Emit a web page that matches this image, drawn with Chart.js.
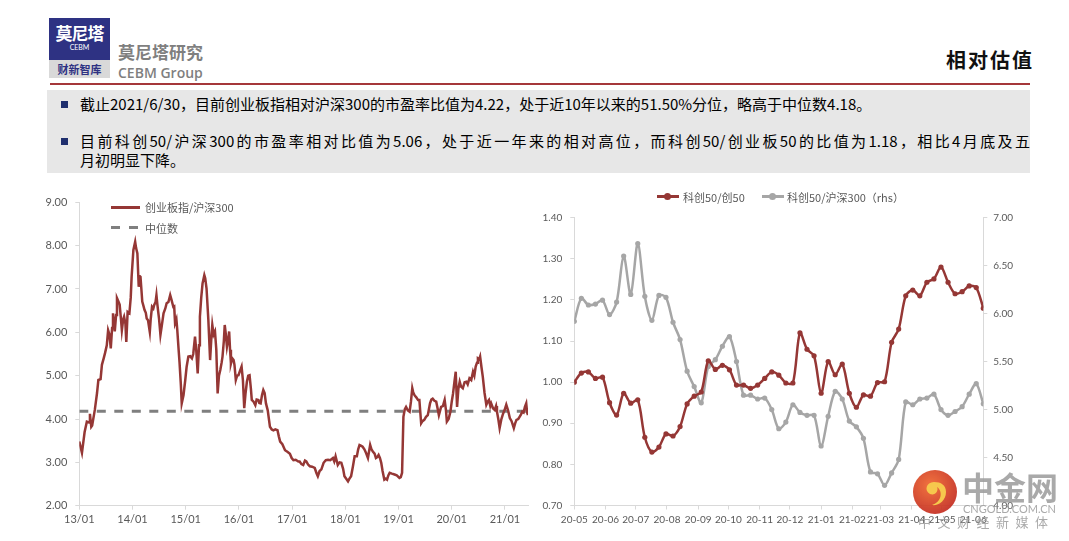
<!DOCTYPE html>
<html lang="zh-CN">
<head>
<meta charset="utf-8">
<title>相对估值</title>
<script src="https://cdn.jsdelivr.net/npm/chart.js@4.4.1/dist/chart.umd.min.js"></script>
<style>
html, body { margin: 0; padding: 0; background: #fff; }
body { width: 1069px; height: 541px; position: relative; overflow: hidden; font-family: 'Noto Sans CJK SC', sans-serif; }
.abs { position: absolute; }
.logo-top { left: 49px; top: 18px; width: 61px; height: 42px; background: #2e3283; color: #fff; text-align: center; }
.logo-top .cn { font-size: 17px; font-weight: 700; line-height: 19px; padding-top: 5px; letter-spacing: -1px; }
.logo-top .en { font-family: Lato, sans-serif; font-size: 7px; line-height: 11px; }
.logo-bot { left: 49px; top: 60px; width: 61px; height: 18px; background: #d9d9d9; color: #2e3283; text-align: center; font-size: 11px; font-weight: 700; line-height: 18px; }
.brand-cn { left: 118px; top: 42px; font-size: 17px; font-weight: 700; color: #7f7f7f; line-height: 20px; }
.brand-en { left: 118px; top: 64px; font-family: 'Open Sans', sans-serif; font-size: 14px; font-weight: 600; color: #7f7f7f; line-height: 18px; }
.title { left: 946px; top: 48px; font-size: 20px; font-weight: 700; color: #111; letter-spacing: 2px; line-height: 24px; }
.rule { left: 50px; top: 83px; width: 980px; height: 2px; background: #a5373a; }
.box { left: 47px; top: 90px; width: 983px; height: 83px; background: #e7e7e7; }
.bullet { width: 7px; height: 7px; background: #1f2f6e; }
.para { left: 80px; font-size: 15px; color: #000; line-height: 19px; white-space: nowrap; }
.just { width: 950px; white-space: normal; text-align: justify; text-align-last: justify; text-justify: inter-character; }
.leg { font-size: 11px; color: #595959; line-height: 14px; white-space: nowrap; }
.wm { color: #9b9b9b; white-space: nowrap; }
</style>
</head>
<body>
<div class="abs logo-top"><div class="cn">莫尼塔</div><div class="en">CEBM</div></div>
<div class="abs logo-bot">财新智库</div>
<div class="abs brand-cn">莫尼塔研究</div>
<div class="abs brand-en">CEBM Group</div>
<div class="abs title">相对估值</div>
<div class="abs rule"></div>

<div class="abs box"></div>
<div class="abs bullet" style="left:61px;top:101px"></div>
<div class="abs para" style="top:94px">截止2021/6/30，目前创业板指相对沪深300的市盈率比值为4.22，处于近10年以来的51.50%分位，略高于中位数4.18。</div>
<div class="abs bullet" style="left:61px;top:138px"></div>
<div class="abs para just" style="top:131px">目前科创50/沪深300的市盈率相对比值为5.06，处于近一年来的相对高位，而科创50/创业板50的比值为1.18，相比4月底及五</div>
<div class="abs para" style="top:150px">月初明显下降。</div>

<canvas id="cybChart" class="abs" width="510" height="340" style="left:30px;top:195px"></canvas>
<div class="abs" style="left:111px;top:206px;width:29px;height:3px;background:#953735"></div>
<div class="abs leg" style="left:145px;top:200px">创业板指/沪深300</div>
<div class="abs" style="left:111px;top:226px;width:9px;height:3px;background:#7f7f7f"></div>
<div class="abs" style="left:129px;top:226px;width:9px;height:3px;background:#7f7f7f"></div>
<div class="abs leg" style="left:145px;top:221px">中位数</div>

<canvas id="kcChart" class="abs" width="500" height="350" style="left:540px;top:185px"></canvas>
<div class="abs" style="left:657px;top:195px;width:22px;height:3px;background:#953735"></div>
<div class="abs" style="left:664px;top:193px;width:7px;height:7px;border-radius:50%;background:#953735"></div>
<div class="abs leg" style="left:683px;top:190px">科创50/创50</div>
<div class="abs" style="left:762px;top:195px;width:22px;height:3px;background:#a6a6a6"></div>
<div class="abs" style="left:769px;top:193px;width:7px;height:7px;border-radius:50%;background:#a6a6a6"></div>
<div class="abs leg" style="left:787px;top:190px">科创50/沪深300（rhs）</div>

<svg class="abs" style="left:912px;top:469px;opacity:0.9" width="46" height="46" viewBox="0 0 46 46">
  <defs><radialGradient id="wmg" cx="40%" cy="35%" r="65%"><stop offset="0" stop-color="#f0642a"/><stop offset="1" stop-color="#c42a1c"/></radialGradient></defs>
  <circle cx="23" cy="23" r="22" fill="url(#wmg)"/>
  <path d="M22 13 C14 13 12 22 18 25 C23 27 27 22 25 18 C31 22 30 33 20 36 C26 37 34 32 34 23 C34 16 29 13 22 13 Z" fill="#f6c33a"/>
</svg>
<div class="abs wm" style="left:962px;top:468px;font-size:32px;font-weight:700;line-height:36px;opacity:0.85">中金网</div>
<div class="abs wm" style="left:963px;top:503px;font-family:Lato,sans-serif;font-size:11px;line-height:12px;opacity:0.85">CNGOLD.COM.CN</div>
<div class="abs wm" style="left:918px;top:514px;font-size:13px;line-height:16px;letter-spacing:6.5px;opacity:0.85">中文财经新媒体</div>

<script>
// 创业板指/沪深300 PE ratio: months since 2013/01 and value
const cybT = [0, 0.6, 1.2, 1.7, 2.2, 2.4, 2.7, 2.9, 3.5, 4.0, 4.3, 4.8, 5.1, 5.5, 5.8, 6.2, 6.5, 6.8, 7.1, 7.4,
  7.6, 8.0, 8.3, 8.5, 8.8, 9.1, 9.4, 9.6, 9.9, 10.1, 10.4, 10.6, 10.9, 11.3, 11.6, 11.8, 12.2, 12.6, 12.8, 13.1,
  13.4, 13.6, 13.8, 14.0, 14.2, 14.5, 14.7, 15.0, 15.2, 15.5, 15.9, 16.1, 16.4, 16.7, 16.9, 17.2, 17.4, 17.6, 17.8, 18.0,
  18.3, 18.6, 19.0, 19.4, 19.7, 20.1, 20.5, 20.8, 21.2, 21.4, 21.6, 21.9, 22.1, 22.4, 22.6, 22.9, 23.1, 23.5, 23.9, 24.2,
  24.6, 25.0, 25.4, 25.7, 26.1, 26.4, 26.7, 27.0, 27.2, 27.5, 27.8, 28.2, 28.4, 28.7, 29.1, 29.5, 29.8, 30.0, 30.3, 30.6,
  30.9, 31.2, 31.5, 31.8, 32.1, 32.3, 32.6, 32.8, 33.0, 33.3, 33.6, 33.8, 34.0, 34.2, 34.5, 34.8, 35.0, 35.3, 35.6, 35.9,
  36.2, 36.6, 36.9, 37.2, 37.5, 37.8, 38.1, 38.4, 38.7, 38.9, 39.3, 39.7, 40.0, 40.4, 40.6, 40.9, 41.2, 41.5, 41.8, 42.1,
  42.5, 43.0, 43.4, 43.8, 44.2, 44.7, 45.0, 45.3, 45.8, 46.4, 47.0, 47.5, 47.9, 48.3, 48.8, 49.4, 49.7, 50.1, 50.5, 50.9,
  51.2, 51.6, 52.0, 52.5, 53.1, 53.5, 53.8, 54.2, 54.6, 55.1, 55.6, 56.1, 56.6, 57.2, 57.5, 57.8, 58.3, 58.7, 59.1, 59.5,
  59.8, 60.2, 60.6, 60.9, 61.3, 61.7, 62.1, 62.6, 62.9, 63.2, 63.6, 63.9, 64.3, 64.7, 65.1, 65.6, 65.9, 66.2, 66.6, 66.9,
  67.2, 67.5, 67.8, 68.1, 68.4, 68.8, 69.1, 69.4, 69.7, 70.0, 70.5, 71.1, 71.6, 72.2, 72.5, 72.8, 73.1, 73.4, 73.7, 74.1,
  74.5, 74.8, 75.1, 75.3, 75.6, 76.0, 76.4, 76.7, 77.1, 77.4, 77.8, 78.2, 78.6, 79.1, 79.4, 79.7, 80.1, 80.5, 80.8, 81.1,
  81.6, 82.0, 82.4, 82.7, 82.9, 83.3, 83.7, 84.0, 84.3, 84.6, 84.9, 85.2, 85.5, 85.8, 86.1, 86.5, 86.9, 87.3, 87.6, 88.0,
  88.4, 88.8, 89.1, 89.4, 89.7, 89.9, 90.2, 90.4, 90.7, 91.0, 91.4, 91.8, 92.1, 92.4, 92.7, 92.9, 93.3, 93.7, 94.0, 94.2,
  94.5, 94.8, 95.2, 95.6, 95.9, 96.3, 96.7, 97.1, 97.5, 98.0, 98.3, 98.6, 99.0, 99.3, 99.6, 99.9, 100.2, 100.5, 100.8, 101.0,
  101.2];
const cybVal = [3.48, 3.22, 3.70, 3.94, 3.92, 4.12, 3.82, 3.85, 4.21, 4.60, 4.90, 4.92, 5.25, 5.40, 5.52, 5.70, 6.05, 5.95, 5.63, 6.10,
  6.44, 6.02, 6.40, 6.79, 6.72, 6.64, 6.30, 6.05, 6.30, 6.36, 6.20, 5.78, 6.47, 6.44, 6.80, 7.28, 7.90, 8.09, 7.95, 7.82,
  7.05, 7.30, 7.28, 7.00, 6.71, 6.60, 6.52, 6.45, 6.32, 6.28, 6.01, 6.30, 6.59, 6.55, 6.63, 6.70, 6.86, 6.65, 6.47, 6.30,
  5.94, 6.15, 6.44, 6.55, 6.67, 6.70, 6.86, 6.75, 6.59, 6.60, 6.21, 6.30, 6.05, 5.60, 5.32, 4.80, 4.36, 4.55, 4.90, 5.20,
  5.44, 5.45, 5.40, 5.50, 5.90, 5.55, 5.05, 5.70, 6.36, 6.80, 7.13, 7.32, 7.25, 7.01, 6.30, 5.36, 5.90, 6.17, 5.95, 6.02,
  5.60, 4.59, 5.00, 5.13, 5.30, 5.44, 5.80, 6.17, 6.00, 5.67, 5.85, 6.02, 5.60, 5.28, 5.40, 5.36, 5.25, 4.90, 5.00, 5.01,
  5.10, 5.21, 4.90, 4.25, 4.60, 4.86, 5.00, 5.01, 4.70, 4.44, 4.40, 4.32, 4.45, 4.44, 4.37, 4.36, 4.55, 4.67, 4.60, 4.36,
  4.20, 3.82, 3.76, 3.74, 3.76, 3.74, 3.60, 3.48, 3.42, 3.28, 3.24, 3.20, 3.10, 3.05, 3.06, 3.02, 3.02, 2.96, 2.94, 3.04,
  3.02, 2.95, 2.91, 2.90, 2.87, 2.75, 2.68, 2.80, 2.84, 2.99, 3.05, 3.06, 3.05, 3.10, 3.02, 3.14, 2.94, 3.00, 2.99, 2.85,
  2.68, 2.62, 2.56, 2.62, 2.68, 2.90, 3.14, 3.14, 3.30, 3.40, 3.38, 3.36, 3.30, 3.21, 3.10, 3.40, 3.30, 3.25, 3.20, 3.10,
  3.12, 3.17, 3.10, 2.99, 2.80, 2.60, 2.62, 2.60, 2.70, 2.76, 2.74, 2.72, 2.70, 2.64, 2.66, 2.76, 4.05, 4.22, 4.28, 4.20,
  4.17, 4.40, 4.71, 4.62, 4.55, 4.50, 4.44, 4.44, 3.90, 3.95, 3.98, 4.05, 4.09, 4.36, 4.45, 4.47, 4.42, 4.40, 4.25, 4.09,
  4.28, 4.30, 4.44, 4.20, 3.94, 4.00, 4.17, 4.40, 4.59, 4.85, 5.09, 4.28, 4.70, 4.86, 4.75, 4.71, 4.85, 4.86, 4.80, 4.94,
  4.90, 5.09, 5.00, 5.21, 5.30, 5.40, 5.38, 5.44, 5.20, 4.98, 4.60, 4.33, 4.40, 4.44, 4.30, 4.36, 4.25, 4.21, 4.30, 4.17,
  4.00, 3.79, 4.00, 4.13, 4.20, 4.33, 4.20, 4.02, 3.95, 3.79, 3.90, 3.98, 4.00, 4.05, 4.10, 4.17, 4.15, 4.28, 4.36, 4.15,
  4.09];
const cybMedian = 4.18;
const yearTicks = ['13/01', '14/01', '15/01', '16/01', '17/01', '18/01', '19/01', '20/01', '21/01'];

// 科创50 weekly ratios
const kcWeeks = ['2020-05-01', '2020-05-08', '2020-05-15', '2020-05-22', '2020-05-29', '2020-06-05', '2020-06-12', '2020-06-19',
  '2020-06-26', '2020-07-03', '2020-07-10', '2020-07-17', '2020-07-24', '2020-07-31', '2020-08-07', '2020-08-14',
  '2020-08-21', '2020-08-28', '2020-09-04', '2020-09-11', '2020-09-18', '2020-09-25', '2020-10-02', '2020-10-09',
  '2020-10-16', '2020-10-23', '2020-10-30', '2020-11-06', '2020-11-13', '2020-11-20', '2020-11-27', '2020-12-04',
  '2020-12-11', '2020-12-18', '2020-12-25', '2021-01-01', '2021-01-08', '2021-01-15', '2021-01-22', '2021-01-29',
  '2021-02-05', '2021-02-12', '2021-02-19', '2021-02-26', '2021-03-05', '2021-03-12', '2021-03-19', '2021-03-26',
  '2021-04-02', '2021-04-09', '2021-04-16', '2021-04-23', '2021-04-30', '2021-05-07', '2021-05-14', '2021-05-21',
  '2021-05-28', '2021-06-04', '2021-06-11'];
const kcVsCyb50 = [1.000, 1.022, 1.025, 1.009, 1.012, 0.950, 0.920, 0.973, 0.949, 0.957, 0.866, 0.830, 0.842, 0.874, 0.869,
  0.892, 0.947, 0.966, 0.976, 1.052, 1.031, 1.041, 1.030, 0.993, 0.993, 0.985, 0.993, 1.009, 1.025, 1.017,
  0.998, 0.998, 1.120, 1.080, 1.064, 0.973, 1.050, 1.018, 1.044, 0.973, 0.939, 0.969, 0.966, 0.999, 1.001,
  1.097, 1.129, 1.210, 1.224, 1.210, 1.243, 1.251, 1.280, 1.243, 1.215, 1.220, 1.234, 1.230, 1.180];
const kcVsHs300 = [5.92, 6.16, 6.09, 6.10, 6.14, 5.99, 6.12, 6.60, 6.20, 6.73, 6.18, 5.93, 6.19, 6.17, 5.91,
  5.73, 5.40, 5.24, 5.07, 5.45, 5.52, 5.66, 5.76, 5.50, 5.15, 5.15, 5.11, 5.12, 5.00, 4.80,
  4.87, 5.05, 4.97, 4.94, 4.94, 4.62, 4.93, 5.19, 5.11, 4.88, 4.82, 4.70, 4.35, 4.33, 4.21,
  4.34, 4.48, 5.08, 5.05, 5.11, 5.12, 5.16, 5.00, 4.94, 4.98, 5.03, 5.16, 5.27, 5.06];
const monthTicks = ['20-05', '20-06', '20-07', '20-08', '20-09', '20-10', '20-11', '20-12',
  '21-01', '21-02', '21-03', '21-04', '21-05', '21-06'];

const RED = '#953735';
const GREY = '#a6a6a6';
const AXIS = '#d9d9d9';
const TICK_FONT = { family: "Lato, 'Noto Sans CJK SC', sans-serif", size: 11 };

Chart.defaults.color = '#595959';

function dayOf(dateStr) {
    return (Date.parse(dateStr) - Date.parse(kcWeeks[0])) / 86400000;
}

function axisStyle() {
    return {
        grid: { drawOnChartArea: false, drawTicks: true, tickLength: 4, color: AXIS },
        border: { color: AXIS, width: 1 }
    };
}

// fixed axis width, and no extra room above/below for the end labels
function fixWidth(w) {
    return function(scale) {
        scale.width = w;
        scale.paddingTop = 0;
        scale.paddingBottom = 0;
    };
}

// Left chart: ChiNext / CSI300
new Chart(document.getElementById('cybChart'), {
    type: 'line',
    data: {
        datasets: [{
            data: cybT.map((t, i) => ({ x: t, y: cybVal[i] })),
            borderColor: RED,
            borderWidth: 2.5,
            pointRadius: 0,
            tension: 0
        }, {
            data: [{ x: cybT[0], y: cybMedian }, { x: cybT[cybT.length - 1], y: cybMedian }],
            borderColor: '#7f7f7f',
            borderWidth: 3,
            borderDash: [9, 8.5],
            pointRadius: 0
        }]
    },
    options: {
        responsive: false,
        animation: false,
        devicePixelRatio: 1,
        layout: { padding: { top: 7.3, right: 12, left: 0, bottom: 0 } },
        plugins: { legend: { display: false }, tooltip: { enabled: false } },
        scales: {
            x: {
                type: 'linear',
                min: 0,
                max: cybT[cybT.length - 1],
                ...axisStyle(),
                afterBuildTicks: function(scale) {
                    scale.ticks = yearTicks.map(l => ({ value: (parseInt(l, 10) - 13) * 12 }));
                },
                afterFit: function(scale) { scale.height = 29.3; },
                ticks: {
                    autoSkip: false,
                    maxRotation: 0,
                    padding: 3,
                    font: TICK_FONT,
                    callback: (v, i) => yearTicks[i]
                }
            },
            y: {
                min: 2,
                max: 9,
                ...axisStyle(),
                afterFit: fixWidth(49.3),
                ticks: {
                    stepSize: 1,
                    padding: 8,
                    font: TICK_FONT,
                    callback: v => v.toFixed(2)
                }
            }
        }
    }
});

// Right chart: STAR50 / ChiNext50 and STAR50 / CSI300 (rhs)
const kcFont = { family: "Lato, 'Noto Sans CJK SC', sans-serif", size: 10 };
new Chart(document.getElementById('kcChart'), {
    type: 'line',
    data: {
        datasets: [{
            data: kcWeeks.map((d, i) => ({ x: dayOf(d), y: kcVsCyb50[i] })),
            yAxisID: 'y',
            borderColor: RED,
            backgroundColor: RED,
            borderWidth: 2.5,
            pointRadius: 2.6,
            pointBorderWidth: 0,
            tension: 0.3
        }, {
            data: kcWeeks.map((d, i) => ({ x: dayOf(d), y: kcVsHs300[i] })),
            yAxisID: 'y1',
            borderColor: GREY,
            backgroundColor: GREY,
            borderWidth: 2.5,
            pointRadius: 2.6,
            pointBorderWidth: 0,
            tension: 0.3
        }]
    },
    options: {
        responsive: false,
        animation: false,
        devicePixelRatio: 1,
        layout: { padding: { top: 32.7, right: 0, left: 0, bottom: 0 } },
        plugins: { legend: { display: false }, tooltip: { enabled: false } },
        scales: {
            x: {
                type: 'linear',
                min: 0,
                max: dayOf(kcWeeks[kcWeeks.length - 1]),
                ...axisStyle(),
                afterBuildTicks: function(scale) {
                    scale.ticks = monthTicks.map(m => ({ value: dayOf('20' + m + '-01') }));
                },
                afterFit: function(scale) { scale.height = 29.5; },
                ticks: {
                    autoSkip: false,
                    maxRotation: 0,
                    padding: 4,
                    font: kcFont,
                    callback: (v, i) => monthTicks[i]
                }
            },
            y: {
                position: 'left',
                min: 0.7,
                max: 1.4,
                ...axisStyle(),
                afterFit: fixWidth(34.3),
                ticks: { stepSize: 0.1, padding: 8, font: kcFont, callback: v => v.toFixed(2) }
            },
            y1: {
                position: 'right',
                min: 4,
                max: 7,
                ...axisStyle(),
                afterFit: fixWidth(56.7),
                ticks: { stepSize: 0.5, padding: 6, font: kcFont, callback: v => v.toFixed(2) }
            }
        }
    }
});
</script>
</body>
</html>
